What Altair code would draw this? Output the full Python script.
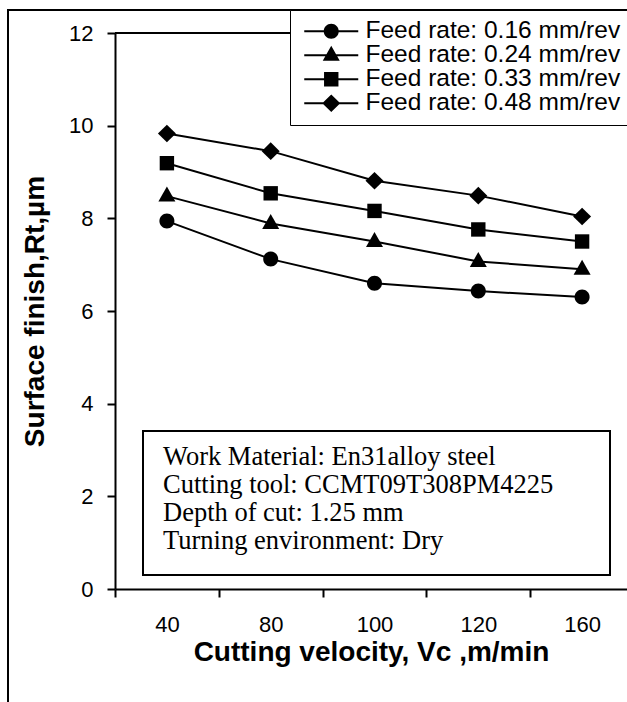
import altair as alt
import pandas as pd

# ---- data ----
velocity = ["40", "80", "100", "120", "160"]
series = [
    "Feed rate: 0.16 mm/rev",
    "Feed rate: 0.24 mm/rev",
    "Feed rate: 0.33 mm/rev",
    "Feed rate: 0.48 mm/rev",
]
rt_016 = [7.94, 7.12, 6.60, 6.43, 6.30]
rt_024 = [8.48, 7.89, 7.50, 7.07, 6.90]
rt_033 = [9.19, 8.54, 8.16, 7.76, 7.50]
rt_048 = [9.83, 9.45, 8.81, 8.49, 8.04]
y_ticks = [0, 2, 4, 6, 8, 10, 12]
info_lines = [
    "Work Material: En31alloy steel",
    "Cutting tool: CCMT09T308PM4225",
    "Depth of cut: 1.25 mm",
    "Turning environment: Dry",
]

values = [rt_016, rt_024, rt_033, rt_048]
rows = []
for s, vals in zip(series, values):
    for v, r in zip(velocity, vals):
        rows.append({"velocity": v, "rt": r, "series": s})
df = pd.DataFrame(rows)

# marker shapes (unit paths, all drawn clockwise)
marker_paths = [
    "M-0.75,0A0.75,0.75,0,1,1,0.75,0A0.75,0.75,0,1,1,-0.75,0Z",
    "M0,-0.95L0.85,0.55L-0.85,0.55Z",
    "M-0.72,-0.72H0.72V0.72H-0.72Z",
    "M0,-0.88L0.9,0L0,0.88L-0.9,0Z",
]
legend_bar = "M-2.7,-0.1H2.7V0.1H-2.7Z"
legend_paths = [legend_bar + p for p in marker_paths]

FONT = "Liberation Sans"
SERIF = "Liberation Serif"

x_enc = alt.X(
    "velocity:N",
    sort=velocity,
    scale=alt.Scale(type="band", paddingInner=0, paddingOuter=0, range=[0, 519]),
    axis=alt.Axis(
        title="Cutting velocity, Vc ,m/min",
        labelAngle=0,
        tickBand="extent",
        domainColor="black",
        domainWidth=2,
        tickColor="black",
        tickWidth=2,
        tickSize=8,
        labelFont=FONT,
        labelFontSize=22,
        labelColor="black",
        labelPadding=17,
        titleFont=FONT,
        titleFontSize=28,
        titleFontWeight="bold",
        titleColor="black",
        titleBaseline="alphabetic",
        titleY=71,
        titleX=256,
    ),
)
y_enc = alt.Y(
    "rt:Q",
    scale=alt.Scale(domain=[0, 12], nice=False),
    axis=alt.Axis(
        title="Surface finish,Rt,\u00b5m",
        values=y_ticks,
        grid=False,
        domainColor="black",
        domainWidth=2,
        tickColor="black",
        tickWidth=2,
        tickSize=8,
        labelFont=FONT,
        labelFontSize=22,
        labelColor="black",
        labelPadding=14,
        titleFont=FONT,
        titleFontSize=28,
        titleFontWeight="bold",
        titleColor="black",
        titleBaseline="alphabetic",
        titleAngle=270,
        titleX=-72,
        titleY=278,
    ),
)

base = alt.Chart(df)

lines = base.mark_line(color="black", strokeWidth=2).encode(
    x=x_enc, y=y_enc, detail="series:N"
)

points = base.mark_point(filled=True, color="black", size=400, opacity=1).encode(
    x=x_enc,
    y=y_enc,
    shape=alt.Shape(
        "series:N",
        scale=alt.Scale(domain=series, range=marker_paths),
        legend=None,
    ),
)

legend_layer = (
    base.transform_filter("false")
    .mark_point(filled=True, color="black", size=400, opacity=1)
    .encode(
        shape=alt.Shape(
            "series:N",
            scale=alt.Scale(domain=series, range=legend_paths),
            legend=alt.Legend(
                title=None,
                orient="none",
                legendX=175,
                legendY=-23,
                direction="vertical",
                padding=9,
                fillColor="white",
                strokeColor="black",
                symbolSize=400,
                symbolFillColor="black",
                symbolOffset=20,
                labelOffset=22,
                labelFont=FONT,
                labelFontSize=24.5,
                labelColor="black",
                labelLimit=600,
                rowPadding=-3,
            ),
        )
    )
)

one = pd.DataFrame({"k": [0]})

frame_v = alt.Chart(one).mark_rule(color="black", strokeWidth=2).encode(
    x=alt.value(-107), y=alt.value(-23), y2=alt.value(680)
)
frame_h = alt.Chart(one).mark_rule(color="black", strokeWidth=2).encode(
    x=alt.value(-108), x2=alt.value(530), y=alt.value(-23)
)
top_line = alt.Chart(one).mark_rule(color="black", strokeWidth=2).encode(
    x=alt.value(0), x2=alt.value(530), y=alt.value(0)
)

info_box = alt.Chart(one).mark_rect(
    fill="white", stroke="black", strokeWidth=2
).encode(x=alt.value(28), x2=alt.value(495), y=alt.value(398), y2=alt.value(542))

info_text = alt.Chart(one).mark_text(
    text=info_lines,
    align="left",
    baseline="alphabetic",
    font=SERIF,
    fontSize=26.5,
    lineHeight=28,
    color="black",
).encode(x=alt.value(48), y=alt.value(432))

chart = (
    alt.layer(frame_v, frame_h, top_line, lines, points, info_box, info_text, legend_layer)
    .resolve_scale(shape="independent")
    .properties(
        width=512,
        height=556,
        autosize=alt.AutoSizeParams(type="none"),
        padding={"left": 115, "top": 33, "right": 0, "bottom": 113},
    )
    .configure_view(stroke=None)
)

chart.save("out.html", embed_options={"renderer": "svg", "actions": False})
